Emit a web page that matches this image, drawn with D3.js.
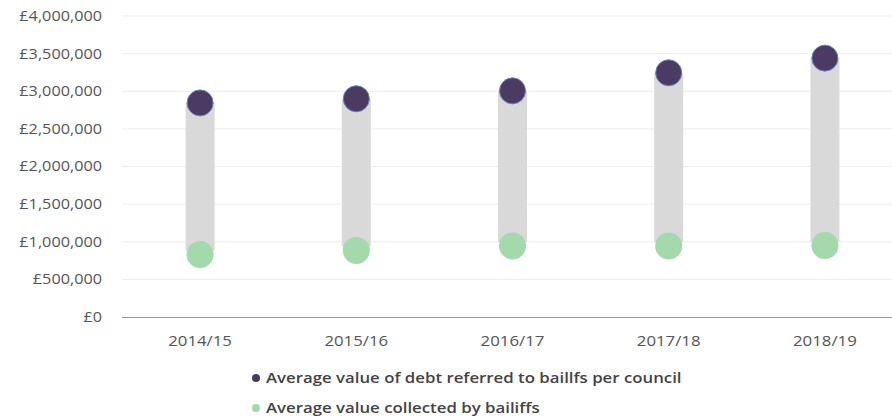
<!DOCTYPE html>
<html><head><meta charset="utf-8">
<script src="https://cdn.jsdelivr.net/npm/d3@7"></script>
<style>
body{margin:0;background:#fff;font-family:"Open Sans",sans-serif;}
svg{display:block;}
</style></head>
<body><svg id="c" width="892" height="419"></svg>
<script>
const categories = ["2014/15","2015/16","2016/17","2017/18","2018/19"];
const debtReferred = [2845000, 2900000, 3005000, 3245000, 3440000];
const collected = [830000, 885000, 945000, 945000, 950000];
const yTicks = [0,500000,1000000,1500000,2000000,2500000,3000000,3500000,4000000];
const seriesNames = ["Average value of debt referred to baillfs per council","Average value collected by bailiffs"];
const colors = ["#4b3b63","#a3d9ab"];

const svg = d3.select("#c");
const x = d3.scaleBand().domain(categories).range([122, 903]);
const y = d3.scaleLinear().domain([0,4000000]).range([317, 16]);
const fmt = v => "£" + d3.format(",")(v);

// gridlines
svg.append("g").selectAll("line").data(yTicks.filter(d=>d>0)).join("line")
  .attr("x1",122).attr("x2",892).attr("y1",d=>y(d)).attr("y2",d=>y(d))
  .attr("stroke","#ececec").attr("stroke-width",1);

// y axis labels
const ys = 1.16;
const yAxis = d3.axisLeft(y).tickValues(yTicks).tickFormat(fmt).tickSize(0).tickPadding(20);
const gy = svg.append("g").attr("transform","translate(122,0)").call(yAxis);
gy.select(".domain").remove();
gy.selectAll("text").attr("font-family","Open Sans, sans-serif").attr("font-size",14)
  .attr("x",-20/ys).attr("transform",`scale(${ys},1)`).attr("fill","#555");

// x axis
const xAxis = d3.axisBottom(x).tickSize(0).tickPadding(19);
const gx = svg.append("g").attr("transform","translate(0,317)").call(xAxis);
gx.select(".domain").attr("stroke","#999").attr("d","M122,0.5H892");
gx.selectAll("text").attr("font-family","Open Sans, sans-serif").attr("font-size",14)
  .attr("transform","scale(1.2,1)").attr("fill","#555");

const data = categories.map((c,i)=>({c, hi:debtReferred[i], lo:collected[i]}));

// bars
svg.append("g").selectAll("rect").data(data).join("rect")
  .attr("x",d=>x(d.c)+x.bandwidth()/2-14.5).attr("width",29)
  .attr("y",d=>y(d.hi)).attr("height",d=>y(d.lo)-y(d.hi)-4)
  .attr("fill","#d9d9d9");

// dots
svg.append("g").selectAll("circle").data(data).join("circle")
  .attr("cx",d=>x(d.c)+x.bandwidth()/2).attr("cy",d=>y(d.lo)).attr("r",13.5)
  .attr("fill",colors[1]);
svg.append("g").selectAll("circle").data(data).join("circle")
  .attr("cx",d=>x(d.c)+x.bandwidth()/2).attr("cy",d=>y(d.hi)).attr("r",13)
  .attr("fill",colors[0]).attr("stroke","#6a80b8").attr("stroke-width",1);

// legend
const lg = svg.append("g");
seriesNames.forEach((n,i)=>{
  const yy = 378 + i*30;
  lg.append("circle").attr("cx",256).attr("cy",yy).attr("r",4).attr("fill",colors[i]);
  lg.append("g").attr("transform",`translate(266,${yy}) scale(1.2,1)`)
    .append("text").attr("x",0).attr("y",0).attr("dy","0.35em")
    .attr("font-family","Open Sans, sans-serif").attr("font-size",14).attr("font-weight",600)
    .attr("fill","#444").text(n);
});
</script></body></html>
